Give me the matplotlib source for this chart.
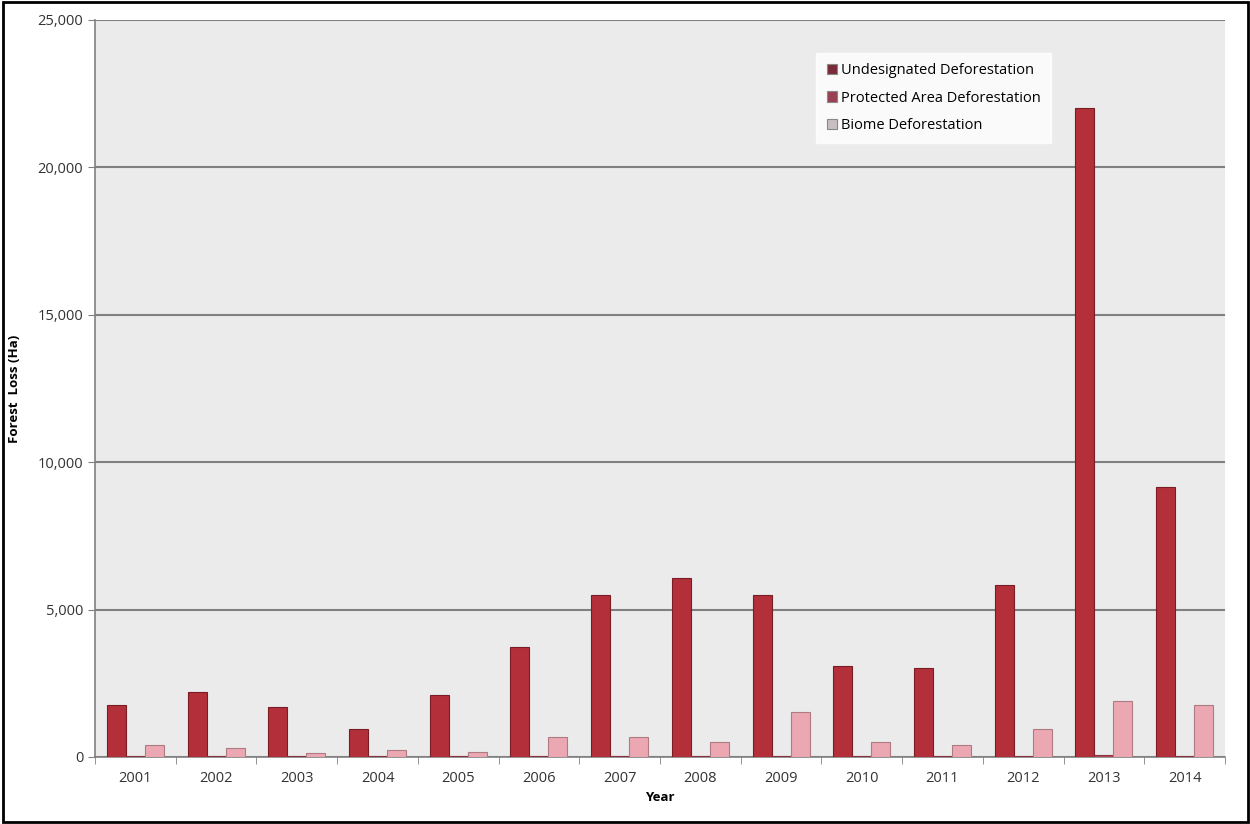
import matplotlib.pyplot as plt
import numpy as np
from matplotlib.patches import Rectangle
from matplotlib.ticker import FuncFormatter, MultipleLocator

years = ["2001", "2002", "2003", "2004", "2005", "2006", "2007",
         "2008", "2009", "2010", "2011", "2012", "2013", "2014"]
undesignated = [1780, 2200, 1700, 950, 2120, 3730, 5500,
                6070, 5500, 3090, 3020, 5830, 22030, 9150]
protected = [40, 30, 30, 20, 30, 40, 50, 50, 40, 30, 30, 40, 60, 50]
biome = [410, 300, 140, 230, 160, 680, 680,
         510, 1530, 510, 400, 950, 1900, 1760]

plt.rcParams['font.family'] = ['Open Sans', 'DejaVu Sans']

fig = plt.figure(figsize=(12.5, 8.24), dpi=100)
ax = fig.add_axes([95/1250, 1-757/824, 1130/1250, 737/824])
ax.set_facecolor("#ebebeb")

x = np.arange(len(years))
w = 0.235
ax.bar(x - w, undesignated, w, color="#b3303a", edgecolor="#7a1c24", linewidth=0.8,
       label="Undesignated Deforestation", zorder=3)
ax.bar(x, protected, w, color="#b84a5a", edgecolor="#8a3040", linewidth=0.8,
       label="Protected Area Deforestation", zorder=3)
ax.bar(x + w, biome, w, color="#eba8b3", edgecolor="#b07a82", linewidth=0.8,
       label="Biome Deforestation", zorder=3)

ax.set_xlim(-0.5, len(years) - 0.5)
ax.set_ylim(0, 25000)
ax.yaxis.set_major_locator(MultipleLocator(5000))
ax.yaxis.set_major_formatter(FuncFormatter(lambda v, p: f"{int(v):,}"))
ax.grid(axis="y", color="#808080", linewidth=1.5, zorder=1)
ax.set_axisbelow(True)

ax.set_xticks(x)
ax.set_xticklabels(years, fontsize=10.5, color="#333333")
ax.set_xticks(np.arange(-0.5, len(years)), minor=True)
ax.tick_params(axis="x", which="major", length=0, pad=10)
ax.tick_params(axis="x", which="minor", length=5, color="#808080")
ax.tick_params(axis="y", length=5, color="#808080", labelsize=10.5, labelcolor="#333333")

for s in ["top", "right"]:
    ax.spines[s].set_visible(False)
for s in ["left", "bottom"]:
    ax.spines[s].set_color("#808080")
    ax.spines[s].set_linewidth(1.2)

ax.set_xlabel("Year", fontsize=9.5, fontweight="bold", labelpad=4)
ax.set_ylabel("Forest  Loss (Ha)", fontsize=9.5, fontweight="bold", labelpad=12)

leg = ax.legend(loc="upper left", bbox_to_anchor=(0.632, 0.965), frameon=True,
                fontsize=10.5, handlelength=0.7, handleheight=0.7, handletextpad=0.3,
                labelspacing=0.85, borderpad=0.7, fancybox=False)
leg.get_frame().set_facecolor("white")
leg.get_frame().set_edgecolor("white")
for h, c in zip(leg.legend_handles, ["#7a2a38", "#9a4055", "#c8c0c0"]):
    h.set_facecolor(c)
    h.set_edgecolor("#888888")

fig.patches.append(Rectangle((0.002, 0.002), 0.996, 0.996, transform=fig.transFigure,
                             fill=False, edgecolor="black", linewidth=2))

fig.savefig("out.png", dpi=100)
